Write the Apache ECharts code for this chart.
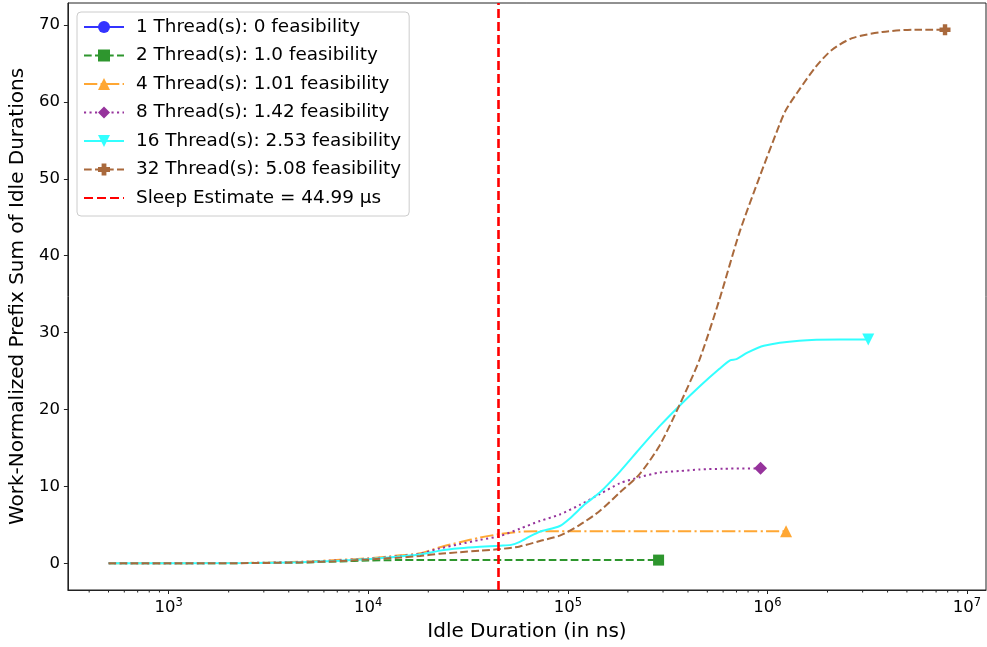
<!DOCTYPE html>
<html>
<head>
<meta charset="utf-8">
<script src="https://cdn.jsdelivr.net/npm/echarts@6/dist/echarts.min.js"></script>
<style>
html,body{margin:0;padding:0;background:#fff;}
#chart{width:987px;height:647px;}
</style>
</head>
<body>
<div id="chart"></div>
<script>
// ---- data (idle duration in ns, work-normalized prefix sum) ----
const seriesNames = [
  '1 Thread(s): 0 feasibility',
  '2 Thread(s): 1.0 feasibility',
  '4 Thread(s): 1.01 feasibility',
  '8 Thread(s): 1.42 feasibility',
  '16 Thread(s): 2.53 feasibility',
  '32 Thread(s): 5.08 feasibility'
];
const sleepName = 'Sleep Estimate = 44.99 µs';
const sleepEstimateNs = 44990;

const thread1 = [];
const thread2 = [[501,0],[2570,0.03],[4570,0.1],[7240,0.25],[10000,0.36],[14450,0.42],[285000,0.42]];
const thread4 = [[501,0],[2570,0.06],[4570,0.2],[7240,0.45],[10000,0.65],[14450,1.04],[18200,1.3],[22900,2.1],[28800,2.75],[36300,3.35],[45700,3.8],[57500,4.1],[72400,4.17],[1240000,4.17]];
const thread8 = [[501,0],[2570,0.05],[4570,0.18],[7240,0.4],[10000,0.6],[14450,0.95],[18200,1.25],[22900,1.95],[28800,2.5],[36300,3.05],[45700,3.55],[57500,4.5],[72400,5.5],[91200,6.35],[114800,7.6],[144500,9.0],[182000,10.4],[229000,11.2],[288000,11.8],[363000,12.0],[457000,12.2],[600000,12.3],[924000,12.35]];
const thread16 = [[501,0],[2570,0.04],[4570,0.15],[7240,0.35],[10000,0.55],[14450,0.9],[18200,1.15],[22900,1.65],[28800,1.95],[36300,2.15],[45700,2.3],[52000,2.4],[57500,2.8],[64600,3.5],[72400,4.1],[91200,4.85],[104000,6.0],[122000,7.7],[144500,9.2],[182000,11.9],[229000,14.9],[290000,17.9],[363000,20.5],[457000,23.0],[575000,25.3],[650000,26.4],[700000,26.55],[794000,27.4],[960000,28.3],[1445000,28.95],[2290000,29.1],[3200000,29.1]];
const thread32 = [[501,0],[2570,0.03],[4570,0.12],[7240,0.3],[10000,0.5],[14450,0.75],[18200,0.95],[22900,1.25],[28800,1.45],[36300,1.65],[45700,1.85],[57500,2.2],[72400,2.9],[91200,3.6],[114800,5.0],[144500,6.8],[182000,9.2],[229000,11.6],[288000,15.3],[363000,20.6],[457000,26.5],[575000,34.3],[724000,43.0],[912000,50.2],[1148000,57.0],[1240000,59.0],[1445000,61.6],[1750000,64.6],[2110000,66.8],[2660000,68.3],[3760000,69.1],[5500000,69.4],[7760000,69.4]];

const xTickValues = [1e3,1e4,1e5,1e6,1e7];
const xMinorTicks = [400,500,600,700,800,900,2e3,3e3,4e3,5e3,6e3,7e3,8e3,9e3,2e4,3e4,4e4,5e4,6e4,7e4,8e4,9e4,2e5,3e5,4e5,5e5,6e5,7e5,8e5,9e5,2e6,3e6,4e6,5e6,6e6,7e6,8e6,9e6];
const yTicks = [0,10,20,30,40,50,60,70];

const xMin = 313, xMax = 1.245e7, yMin = -3.47, yMax = 72.87;

const FONT = 'DejaVu Sans';
const colors = ['#3333ff','#2e962e','#ffa733','#96339c','#33ffff','#a9693c'];
const plusPath = 'path://M3,0 H7 V3 H10 V7 H7 V10 H3 V7 H0 V3 H3 Z';

function withEndMarker(arr){
  return arr.map((p,i)=> i===arr.length-1 ? {value:p} : {value:p, symbol:'none'});
}

function lineSeries(name, data, color, type, symbol, size, rotate){
  return {
    name: name, type: 'line', data: withEndMarker(data),
    symbol: symbol, symbolSize: size, symbolRotate: rotate || 0, showSymbol: true,
    showAllSymbol: true,
    itemStyle: {color: color},
    lineStyle: {color: color, width: 2, type: type},
    smooth: 0.25, animation: false, z: 3
  };
}

const chart = echarts.init(document.getElementById('chart'), null, {renderer:'canvas'});
const option = {
  animation: false,
  backgroundColor: '#fff',
  textStyle: {fontFamily: FONT},
  grid: {left: 67, right: 1, top: 3, bottom: 54.5, show: true, borderColor: '#222', borderWidth: 1, backgroundColor: 'transparent'},
  legend: {
    orient: 'vertical', left: 77, top: 12,
    data: seriesNames.concat([{name: sleepName, itemStyle: {opacity: 0}}]),
    itemWidth: 40, itemHeight: 15, itemGap: 7.5,
    padding: [4.5, 8, 7.5, 6],
    backgroundColor: 'rgba(255,255,255,0.85)',
    borderColor: '#cccccc', borderWidth: 1, borderRadius: 4,
    textStyle: {fontFamily: FONT, fontSize: 18.4, color: '#000', lineHeight: 21, padding: [0,0,0,7]},
    selectedMode: false
  },
  xAxis: {
    type: 'log', logBase: 10, min: xMin, max: xMax,
    name: 'Idle Duration (in ns)', nameLocation: 'middle', nameGap: 32,
    nameTextStyle: {fontFamily: FONT, fontSize: 20, color: '#000'},
    axisLine: {show: true, onZero: false, lineStyle: {color: '#222', width: 1}},
    axisTick: {show: true, inside: false, length: 4, lineStyle: {color: '#222'}},
    splitLine: {show: false},
    axisLabel: {
      show: true, margin: 7, color: '#000', fontFamily: FONT, fontSize: 16.5,
      showMinLabel: false, showMaxLabel: false,
      formatter: function(v){
        const e = Math.round(Math.log10(v));
        if (xTickValues.indexOf(Math.pow(10,e)) < 0 || Math.abs(Math.log10(v)-e) > 1e-6) return '';
        return '10{sup|' + e + '}';
      },
      rich: {sup: {fontSize: 11.5, verticalAlign: 'top', padding: [0,0,9,0], fontFamily: FONT, color:'#000'}}
    }
  },
  yAxis: {
    type: 'value', min: yMin, max: yMax, splitNumber: 8,
    name: 'Work-Normalized Prefix Sum of Idle Durations', nameLocation: 'middle', nameGap: 33,
    nameTextStyle: {fontFamily: FONT, fontSize: 20, color: '#000'},
    axisLine: {show: true, onZero: false, lineStyle: {color: '#222', width: 1}},
    axisTick: {show: true, inside: false, length: 4, lineStyle: {color: '#222'}},
    splitLine: {show: false},
    axisLabel: {
      color: '#000', fontFamily: FONT, fontSize: 16.5, margin: 8,
      showMinLabel: false, showMaxLabel: false,
      formatter: function(v){ return yTicks.indexOf(v) >= 0 ? String(v) : ''; }
    }
  },
  series: [
    lineSeries(seriesNames[0], thread1, colors[0], 'solid', 'circle', 11),
    lineSeries(seriesNames[1], thread2, colors[1], [7.7, 3.3], 'rect', 11),
    lineSeries(seriesNames[2], thread4, colors[2], [13.3, 3.3, 2.1, 3.3], 'triangle', 12),
    lineSeries(seriesNames[3], thread8, colors[3], [2.1, 3.4], 'diamond', 13),
    lineSeries(seriesNames[4], thread16, colors[4], 'solid', 'triangle', 12, 180),
    lineSeries(seriesNames[5], thread32, colors[5], [7.7, 3.3], plusPath, 11),
    {
      name: sleepName, type: 'line', data: [], symbol: 'none',
      itemStyle: {color: '#ff0000'},
      lineStyle: {color: '#ff0000', width: 2.5, type: [9, 4]},
      markLine: {
        silent: true, symbol: ['none','none'], label: {show: false},
        lineStyle: {color: '#ff0000', width: 2.6, type: [9, 4]},
        data: [{xAxis: sleepEstimateNs}]
      }
    },
    {
      name: 'minorTicks', type: 'custom', silent: true, clip: false,
      data: xMinorTicks.map(v => [v, yMin]),
      encode: {x: 0, y: 1},
      renderItem: function(params, api){
        const p = api.coord([api.value(0), yMin]);
        return {type: 'line', shape: {x1: p[0], y1: p[1], x2: p[0], y2: p[1] + 2.5}, style: {stroke: '#222', lineWidth: 1}};
      }
    }
  ]
};
chart.setOption(option);
</script>
</body>
</html>
